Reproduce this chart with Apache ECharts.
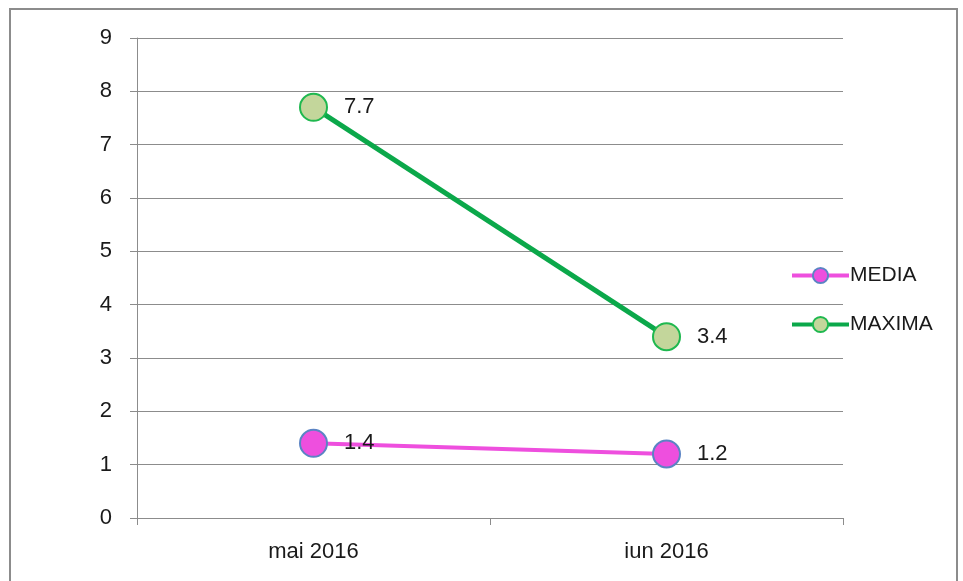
<!DOCTYPE html>
<html lang="ro">
<head>
<meta charset="UTF-8">
<title>MEDIA / MAXIMA</title>
<script src="https://cdn.jsdelivr.net/npm/echarts@6/dist/echarts.min.js"></script>
<style>
  html, body { margin: 0; padding: 0; background: #fff; overflow: hidden; }
  #frame { position: absolute; left: 9px; top: 8px; width: 949px; height: 620px; border: 2px solid #8c8c8c; box-sizing: border-box; }
  #chart { position: absolute; left: 0; top: 0; width: 963px; height: 581px; }
</style>
</head>
<body>
<div id="frame"></div>
<div id="chart"></div>
<script>
// date
var luni = ['mai 2016', 'iun 2016'];
var media = [1.4, 1.2];
var maxima = [7.7, 3.4];

var font = 'Liberation Sans';
var fs = 22;
var myChart = echarts.init(document.getElementById('chart'));

myChart.setOption({
  animation: false,
  textStyle: { fontFamily: font },
  grid: { left: 137, right: 120, top: 38, bottom: 63 },
  legend: {
    orient: 'vertical',
    left: 785,
    top: 260,
    itemWidth: 57,
    itemHeight: 19,
    itemGap: 28,
    textStyle: { fontSize: fs - 1, color: '#1a1a1a', fontFamily: font, padding: [0, 0, 0, -4] },
    data: [
      { name: 'MEDIA', lineStyle: { width: 4 } },
      { name: 'MAXIMA', lineStyle: { width: 4 } }
    ]
  },
  xAxis: {
    type: 'category',
    data: luni,
    boundaryGap: true,
    axisLine: { lineStyle: { color: '#8c8c8c', width: 1 } },
    axisTick: { show: true, length: 7, interval: 0, lineStyle: { color: '#8c8c8c' } },
    axisLabel: { fontSize: fs, color: '#1a1a1a', margin: 23, fontFamily: font }
  },
  yAxis: {
    type: 'value',
    min: 0,
    max: 9,
    interval: 1,
    axisLine: { show: true, lineStyle: { color: '#8c8c8c', width: 1 } },
    axisTick: { show: true, length: 7, lineStyle: { color: '#8c8c8c' } },
    splitLine: { lineStyle: { color: '#8c8c8c', width: 1 } },
    axisLabel: { fontSize: fs, color: '#1a1a1a', margin: 25, fontFamily: font }
  },
  series: [{
    name: 'MEDIA',
    type: 'line',
    data: media,
    symbol: 'circle',
    symbolSize: 27,
    lineStyle: { color: '#ee4fde', width: 4 },
    itemStyle: { color: '#ee4fde', borderColor: '#5b84c4', borderWidth: 2 },
    label: { show: true, position: 'right', distance: 16, fontSize: fs, color: '#1a1a1a', fontFamily: font }
  }, {
    name: 'MAXIMA',
    type: 'line',
    data: maxima,
    symbol: 'circle',
    symbolSize: 27,
    lineStyle: { color: '#0ba84a', width: 5 },
    itemStyle: { color: '#c3d69b', borderColor: '#1fb84f', borderWidth: 2 },
    label: { show: true, position: 'right', distance: 16, fontSize: fs, color: '#1a1a1a', fontFamily: font }
  }]
});
</script>
</body>
</html>
